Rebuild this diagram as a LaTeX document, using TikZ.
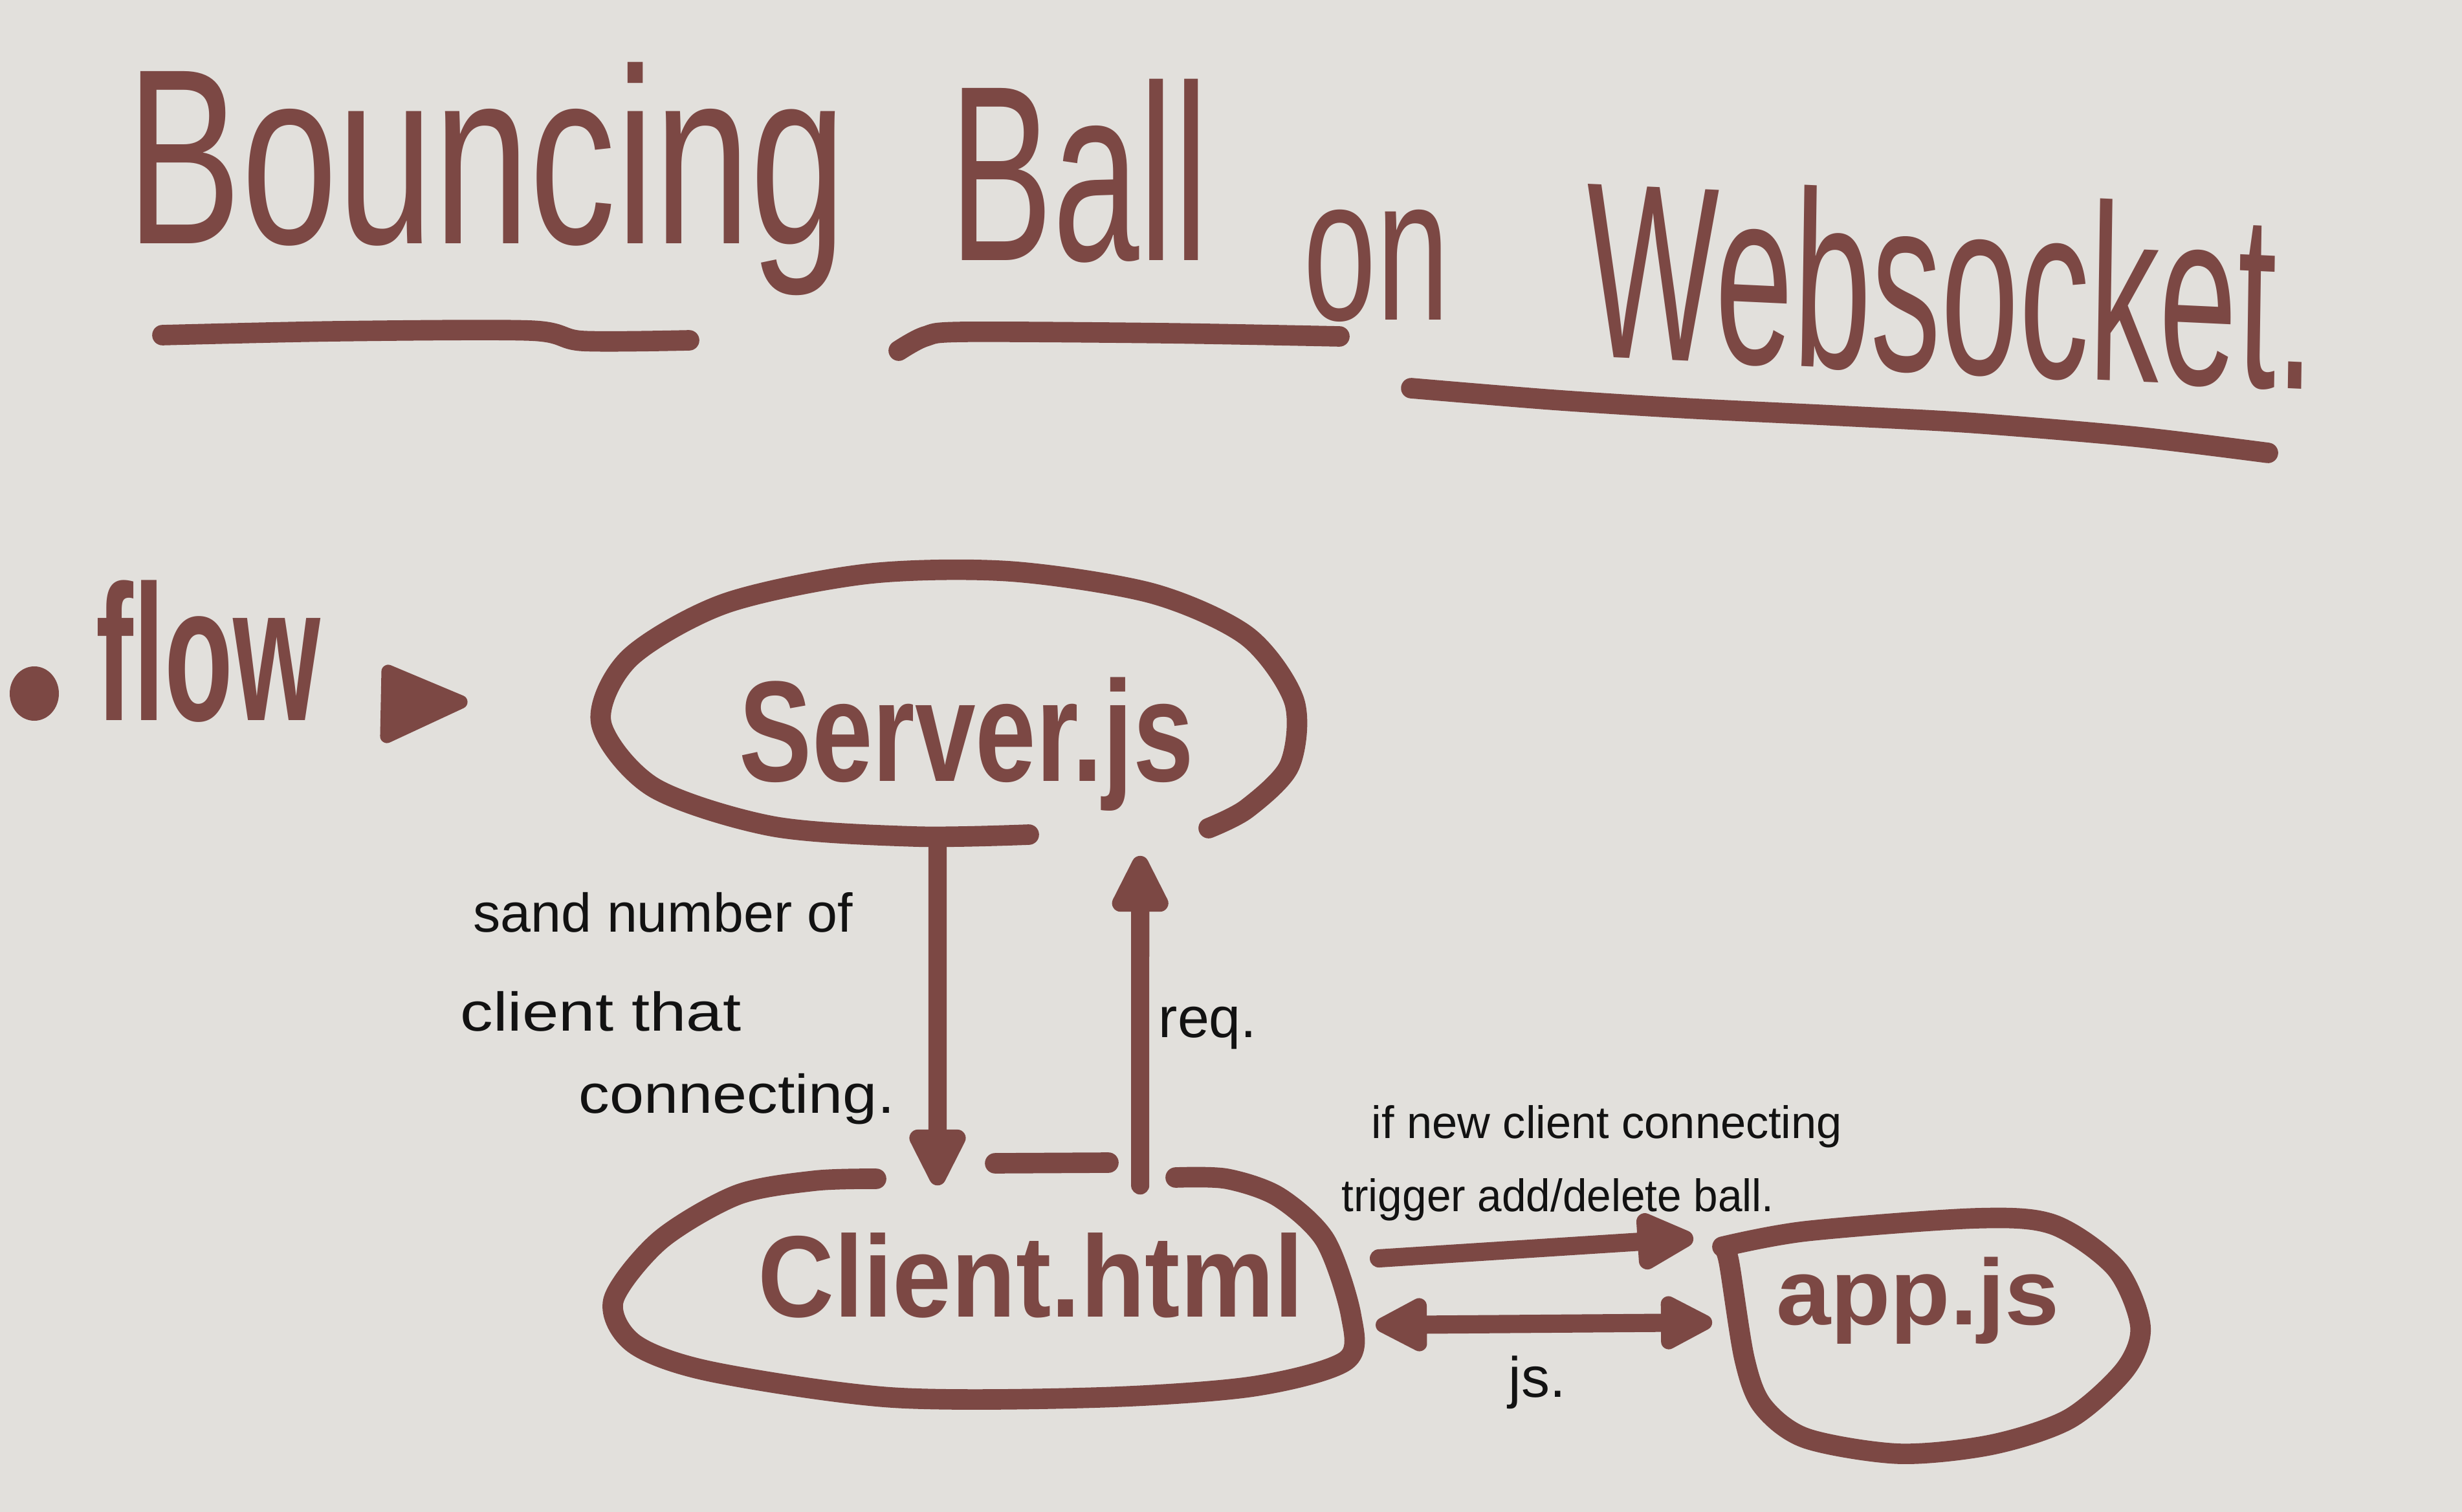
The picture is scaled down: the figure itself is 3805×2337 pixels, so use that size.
\documentclass[tikz,border=0pt]{standalone}
\usepackage{fontspec}
\setmainfont{Liberation Sans}
\usetikzlibrary{arrows.meta,calc}
\definecolor{ink}{RGB}{124,72,68}
\definecolor{paper}{RGB}{226,224,220}
\definecolor{pen}{RGB}{18,18,18}
\begin{document}
\begin{tikzpicture}[x=0.01cm,y=-0.01cm,
  stroke/.style={draw=ink,line width=9pt,line cap=round,line join=round},
  underline/.style={draw=ink,line width=9pt,line cap=round,line join=round},
  flowarrow/.style={draw=ink,line width=8pt,line cap=round,-{Triangle[length=1.05cm,width=0.95cm,round]}},
  twoway/.style={draw=ink,line width=8pt,line cap=round,{Triangle[length=0.95cm,width=0.9cm,round]}-{Triangle[length=0.95cm,width=0.9cm,round]}},
  frame/.style={draw=none,inner sep=0pt,rectangle},
  headword/.style={text=ink,font=\fontsize{110}{110}\selectfont,anchor=base west,inner sep=0pt},
  boxtext/.style={text=ink,anchor=base,inner sep=0pt},
  penlabel/.style={text=pen,font=\fontsize{24}{24}\selectfont,anchor=base west,inner sep=0pt},
]
% paper
\fill[paper] (0,0) rectangle (3805,2337);

% ---- title ----
\node[headword,xscale=0.69] (wBouncing) at (195,377) {Bouncing};
\node[headword,xscale=0.62] (wBall) at (1467,403) {Ball};
\node[headword,font=\fontsize{90}{90}\selectfont,xscale=0.64] (wOn) at (2014,495) {on};
\node[headword,xscale=0.56,rotate=-1.5] (wWebsocket) at (2449,550) {Websocket.};
\draw[underline] plot[smooth] coordinates {(251,518) (520,512) (820,511) (900,527) (1065,526)};
\draw[underline] plot[smooth] coordinates {(1389,542) (1430,520) (1489,513) (1800,515) (2070,520)};
\draw[underline] plot[smooth] coordinates {(2181,600) (2400,618) (2605,631) (2850,643) (3052,654) (3300,675) (3505,700)};

% ---- flow heading ----
\fill[ink] (53,1072) ellipse [x radius=38,y radius=42];
\node[headword,font=\fontsize{85}{85}\selectfont\bfseries,xscale=0.58] (flow) at (148,1113) {flow};
\filldraw[ink,line width=6pt,line join=round] (600,1038) -- (712,1085) -- (598,1138) -- cycle;

% ---- boxes ----
\node[frame,minimum width=10.7cm,minimum height=4.1cm] (server) at (1465,1088) {};
\node[frame,minimum width=11.4cm,minimum height=3.63cm] (client) at (1518,1978) {};
\node[frame,minimum width=6.46cm,minimum height=3.64cm] (app) at (2985,2065) {};

\node[boxtext,font=\fontsize{63}{63}\selectfont\bfseries,xscale=0.76] (serverlabel) at (1494,1207) {Server.js};
\node[boxtext,font=\fontsize{51}{51}\selectfont\bfseries,xscale=0.91] (clientlabel) at (1593,2035) {Client.html};
\node[boxtext,font=\fontsize{41}{41}\selectfont\bfseries,xscale=1.05] (applabel) at (2964,2047) {app.js};

% server outline, open at the bottom right
\draw[stroke] plot[smooth] coordinates {(1590,1290) (1414,1293) (1193,1277) (1010,1217) (929,1117) (973,1017) (1120,933) (1340,887) (1560,883) (1780,917) (1927,983) (2000,1083) (1993,1183) (1927,1250) (1868,1280)};

% client outline with a gap where the arrows meet it
\draw[stroke] plot[smooth] coordinates {(1354,1822) (1259,1825) (1139,1847) (1020,1917) (948,2010) (980,2077) (1099,2120) (1378,2160) (1697,2160) (1936,2143) (2080,2103) (2088,2033) (2048,1917) (1976,1850) (1896,1822) (1817,1820)};
\draw[stroke] (1538,1798) -- (1713,1797);

% app outline
\draw[stroke] plot[smooth] coordinates {(2662,1927) (2791,1903) (3055,1883) (3174,1893) (3270,1960) (3308,2050) (3284,2117) (3198,2193) (3078,2233) (2935,2247) (2791,2223) (2724,2173) (2696,2100) (2672,1950) (2662,1927)};

% ---- connectors ----
\draw[flowarrow] ([xshift=-0.16cm]server.south) -- ([xshift=-0.69cm,yshift=-0.365cm]client.north);
\draw[flowarrow] ([xshift=2.44cm,yshift=-0.365cm]client.north) -- ([xshift=2.97cm,yshift=-0.29cm]server.south);
\draw[flowarrow] ([xshift=0.42cm,yshift=0.33cm]client.east) -- ([xshift=-0.44cm,yshift=1.51cm]app.west);
\draw[twoway] ([xshift=0.37cm,yshift=-0.70cm]client.east) -- ([xshift=-0.15cm,yshift=0.21cm]app.west);

% ---- notes ----
\node[penlabel] (sendA) at (731,1440) {sand number of};
\node[penlabel,xscale=1.2] (sendB) at (711,1593) {client that};
\node[penlabel,xscale=1.13] (sendC) at (894,1720) {connecting.};
\node[penlabel,font=\fontsize{25}{25}\selectfont] (req) at (1790,1603) {req.};
\node[penlabel,font=\fontsize{20}{20}\selectfont] (trigA) at (2119,1759) {if new client connecting};
\node[penlabel,font=\fontsize{20}{20}\selectfont,xscale=0.96] (trigB) at (2073,1872) {trigger add/delete ball.};
\node[penlabel,font=\fontsize{25}{25}\selectfont] (jsnote) at (2331,2159) {js.};
\end{tikzpicture}
\end{document}
